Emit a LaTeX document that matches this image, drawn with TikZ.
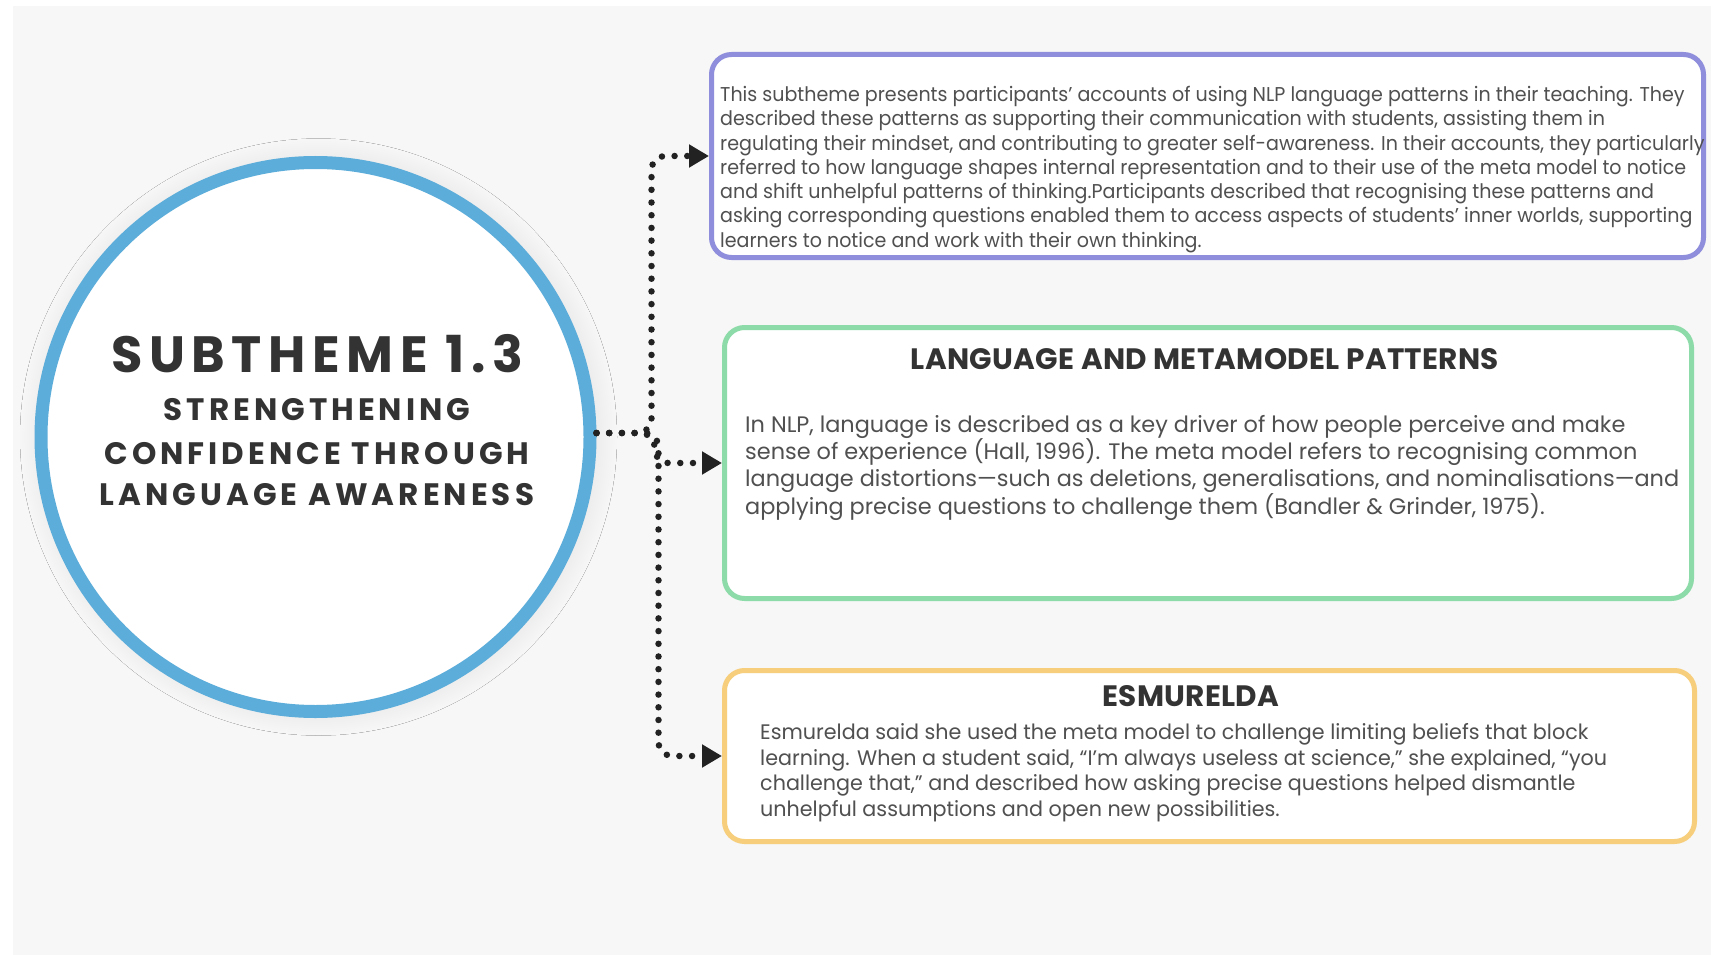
\documentclass[tikz,border=0pt]{standalone}
\usepackage{fontspec}
\usetikzlibrary{arrows.meta,shadows.blur}

\newfontfamily\summaryfont{Poppins}[FakeStretch=0.953]
\newfontfamily\bodyfont{Poppins}
\newfontfamily\quotefont{Poppins}[FakeStretch=0.985]
\newfontfamily\titlefont{Poppins}[LetterSpace=1]
\newfontfamily\hubfont{Poppins}[LetterSpace=13]

\definecolor{canvas}{HTML}{F7F7F7}
\definecolor{hubblue}{HTML}{5DADDA}
\definecolor{lavender}{HTML}{8E8EDC}
\definecolor{mint}{HTML}{8EDBAA}
\definecolor{sand}{HTML}{F6CE7C}
\definecolor{ink}{HTML}{333333}
\definecolor{bodyink}{HTML}{505050}
\definecolor{dots}{HTML}{222222}

\begin{document}
\begin{tikzpicture}[x=1pt,y=-1pt,
  hub/.style={circle, draw=hubblue, line width=13pt, fill=white,
    minimum size=549pt, inner sep=0pt,
    blur shadow={shadow xshift=3pt, shadow yshift=0pt, shadow scale=1.0,
      shadow blur radius=24pt, shadow blur steps=12, shadow opacity=10}},
  hubtitle/.style={text=ink, inner sep=0pt, font=\hubfont\bfseries\fontsize{51}{56}\selectfont},
  hubsub/.style={text=ink, inner sep=0pt, font=\hubfont\bfseries\fontsize{31}{34}\selectfont},
  card/.style={rectangle, rounded corners=20pt, line width=5pt, fill=white, inner sep=0pt},
  cardtitle/.style={text=ink, inner sep=0pt, font=\titlefont\bfseries\fontsize{29.5}{34}\selectfont},
  cardtext/.style={text=bodyink, inner sep=0pt, align=left, anchor=north west},
  conn/.style={draw=dots, line width=6.5pt, line cap=round,
    dash pattern=on 0pt off 12.7pt, rounded corners=14pt,
    -{Triangle[length=20pt,width=22pt]}}
]
\useasboundingbox (0,0) rectangle (1711,955);
\fill[white] (0,0) rectangle (1711,955);
\fill[canvas] (13,6) rectangle (1711,955);

% central subtheme circle
\node[hub] (hub) at (315.5,437) {};
\node[hubtitle] (hubA) at (317,353.5) {SUBTHEME 1.3};
\node[hubsub] (hubB) at (317,410) {STRENGTHENING};
\node[hubsub] (hubC) at (317,454) {CONFIDENCE THROUGH};
\node[hubsub] (hubD) at (317,495) {LANGUAGE AWARENESS};

% cards
\node[card, draw=lavender, minimum width=992pt, minimum height=203pt] (summary) at (1207.5,156) {};
\node[card, draw=mint, minimum width=967pt, minimum height=271pt] (theory) at (1208,463) {};
\node[card, draw=sand, minimum width=970pt, minimum height=171pt] (quote) at (1209.5,756) {};

% card texts
\node[cardtext, font=\summaryfont\fontsize{20}{24.3}\selectfont] (summarytext) at (720,86)
 {This subtheme presents participants’ accounts of using NLP language patterns in their teaching. They\\
  described these patterns as supporting their communication with students, assisting them in\\
  regulating their mindset, and contributing to greater self-awareness. In their accounts, they particularly\\
  referred to how language shapes internal representation and to their use of the meta model to notice\\
  and shift unhelpful patterns of thinking.Participants described that recognising these patterns and\\
  asking corresponding questions enabled them to access aspects of students’ inner worlds, supporting\\
  learners to notice and work with their own thinking.};

\node[cardtitle] (theorytitle) at (1205,359) {LANGUAGE AND METAMODEL PATTERNS};
\node[cardtext, font=\bodyfont\fontsize{22.4}{27.3}\selectfont] (theorytext) at (745,415)
 {In NLP, language is described as a key driver of how people perceive and make\\
  sense of experience (Hall, 1996). The meta model refers to recognising common\\
  language distortions—such as deletions, generalisations, and nominalisations—and\\
  applying precise questions to challenge them (Bandler \& Grinder, 1975).};

\node[cardtitle] (quotetitle) at (1191,696) {ESMURELDA};
\node[cardtext, font=\quotefont\fontsize{21}{25.8}\selectfont] (quotetext) at (760,723)
 {Esmurelda said she used the meta model to challenge limiting beliefs that block\\
  learning. When a student said, “I’m always useless at science,” she explained, “you\\
  challenge that,” and described how asking precise questions helped dismantle\\
  unhelpful assumptions and open new possibilities.};

% dotted connectors
\draw[conn] ([yshift=4pt]hub.east) -- ++(55,0) |- (summary.west);
\draw[conn] ([yshift=4pt]hub.east) -- ++(58,0) |- (theory.west);
\draw[conn] ([yshift=4pt]hub.east) -- ++(62,0) |- (quote.west);
\end{tikzpicture}
\end{document}
